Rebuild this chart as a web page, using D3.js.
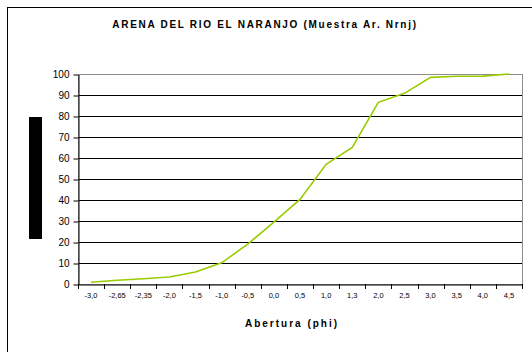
<!DOCTYPE html>
<html><head><meta charset="utf-8">
<script src="https://cdn.jsdelivr.net/npm/d3@7"></script>
<style>body{margin:0;background:#fff}svg{display:block}</style>
</head><body>
<script>
const categories = ["-3,0","-2,65","-2,35","-2,0","-1,5","-1,0","-0,5","0,0","0,5","1,0","1,3","2,0","2,5","3,0","3,5","4,0","4,5"];
const values = [0.8,1.8,2.5,3.3,5.7,10.1,19,29.5,40.3,57,65,86.5,90.8,98.4,98.9,99,100];
const yTicks = [0,10,20,30,40,50,60,70,80,90,100];
const title = "ARENA DEL RIO EL NARANJO (Muestra Ar. Nrnj)";
const xTitle = "Abertura (phi)";

const W=532,H=352;
const svg=d3.select("body").append("svg").attr("width",W).attr("height",H);
svg.append("rect").attr("x",7.5).attr("y",7.5).attr("width",W).attr("height",H).attr("fill","#fff").attr("stroke","#000").attr("stroke-width",1);

const L=78,R=522,T=74,B=284;
const x=d3.scaleBand().domain(categories).range([L,R]);
const y=d3.scaleLinear().domain([0,100]).range([B,T]);

// gridlines
svg.append("g").selectAll("line").data(yTicks.slice(1,-1)).join("line")
 .attr("x1",L).attr("x2",R).attr("y1",d=>Math.round(y(d))+0.5).attr("y2",d=>Math.round(y(d))+0.5)
 .attr("stroke","#000").attr("stroke-width",1);
// plot border
svg.append("rect").attr("x",L+0.5).attr("y",T+0.5).attr("width",R-L).attr("height",B-T)
 .attr("fill","none").attr("stroke","#8c8c8c");

// y axis
const ya=svg.append("g").attr("transform",`translate(${L+0.5},0.5)`)
 .call(d3.axisLeft(y).tickValues(yTicks).tickSize(5).tickPadding(4).tickSizeOuter(0));
ya.select(".domain").attr("stroke","#000");
ya.selectAll(".tick line").attr("stroke","#000");
ya.selectAll("text").attr("font-family","Liberation Sans, Arial, sans-serif").attr("font-size",10).attr("fill","#000");

// x axis
const xa=svg.append("g").attr("transform",`translate(0,${B+0.5})`)
 .call(d3.axisBottom(x).tickSize(0).tickPadding(8));
xa.select(".domain").attr("stroke","#000");
xa.selectAll("text").attr("font-family","Liberation Sans, Arial, sans-serif").attr("font-size",7.5).attr("fill","#000");
// ticks between categories
svg.append("g").selectAll("line").data(d3.range(categories.length+1)).join("line")
 .attr("x1",i=>Math.round(L+i*x.step())+0.5).attr("x2",i=>Math.round(L+i*x.step())+0.5)
 .attr("y1",B).attr("y2",B+5).attr("stroke","#000");

// line
svg.append("path").datum(values)
 .attr("d",d3.line().x((d,i)=>x(categories[i])+x.bandwidth()/2).y(d=>y(d)))
 .attr("fill","none").attr("stroke","#99cc00").attr("stroke-width",1.6);

// titles
svg.append("text").attr("x",265).attr("y",28).attr("text-anchor","middle")
 .attr("font-family","Liberation Sans, Arial, sans-serif").attr("font-weight","bold").attr("font-size",10)
 .attr("letter-spacing",1.7).text(title);
svg.append("text").attr("x",292).attr("y",327).attr("text-anchor","middle")
 .attr("font-family","Liberation Sans, Arial, sans-serif").attr("font-weight","bold").attr("font-size",10)
 .attr("letter-spacing",2).text(xTitle);

// y-axis title redaction block
svg.append("rect").attr("x",29).attr("y",117).attr("width",13).attr("height",122).attr("fill","#000");
</script>
</body></html>
